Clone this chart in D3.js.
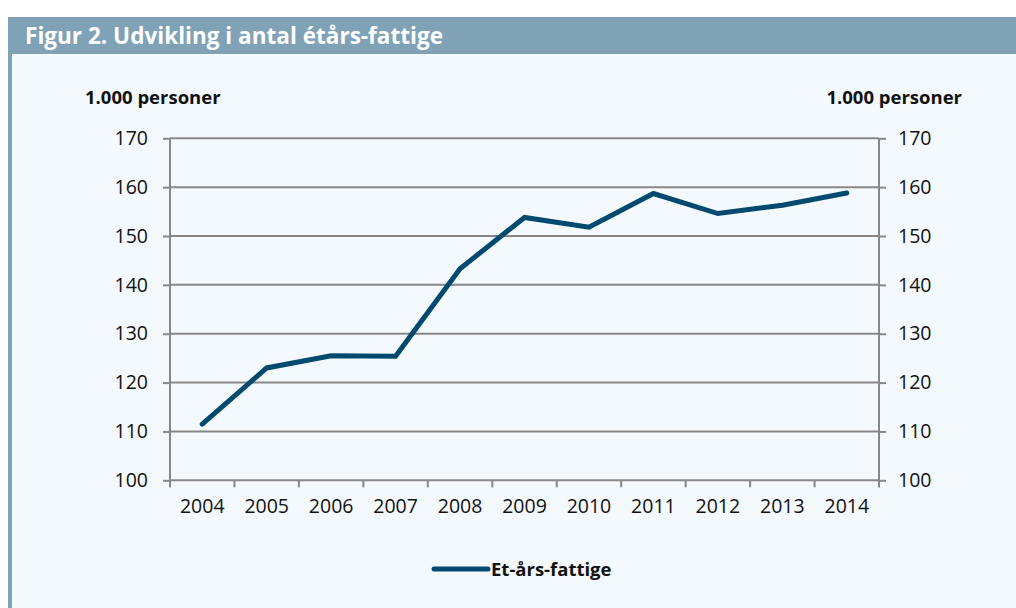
<!DOCTYPE html>
<html><head><meta charset="utf-8">
<script src="https://cdn.jsdelivr.net/npm/d3@7"></script>
<style>
html,body{margin:0;padding:0;background:#fff;}
svg{display:block;}
</style></head>
<body>
<svg id="c" width="1016" height="608"></svg>
<script>
const years = ["2004","2005","2006","2007","2008","2009","2010","2011","2012","2013","2014"];
const values = [111.5, 123.0, 125.5, 125.4, 143.3, 153.8, 151.8, 158.7, 154.6, 156.3, 158.8];
const yTicks = [100,110,120,130,140,150,160,170];
const titleText = "Figur 2. Udvikling i antal étårs-fattige";
const unitLabel = "1.000 personer";
const seriesName = "Et-års-fattige";

const svg = d3.select("#c");
const W = 1016, H = 608;
const font = "'Open Sans', sans-serif";
const gridCol = "#878787";
const lineCol = "#004a70";
const barCol = "#7fa2b7";

// background panel
svg.append("rect").attr("x",8).attr("y",17).attr("width",W-8).attr("height",H-17).attr("fill","#f4f9fd");
svg.append("rect").attr("x",8).attr("y",17).attr("width",W-8).attr("height",37).attr("fill",barCol);
svg.append("rect").attr("x",8).attr("y",17).attr("width",4).attr("height",H-17).attr("fill",barCol);
svg.append("text").attr("x",25).attr("y",44).attr("fill","#fff")
  .attr("font-family",font).attr("font-weight",700).attr("font-size",22.5)
  .attr("textLength",418).attr("lengthAdjust","spacingAndGlyphs")
  .text(titleText);

const L = 170, R = 879, T = 138.3, B = 480.3;
const x = d3.scaleBand().domain(years).range([L,R]);
const y = d3.scaleLinear().domain([100,170]).range([B,T]);

// unit labels
svg.append("text").attr("x",85).attr("y",104).attr("font-family",font).attr("font-weight",700)
  .attr("font-size",18.5).attr("fill","#111").text(unitLabel);
svg.append("text").attr("x",962).attr("y",104).attr("text-anchor","end").attr("font-family",font).attr("font-weight",700)
  .attr("font-size",18.5).attr("fill","#111").text(unitLabel);

// gridlines
svg.append("g").selectAll("line").data(yTicks.filter(d=>d>100)).join("line")
  .attr("x1",L).attr("x2",R).attr("y1",d=>y(d)).attr("y2",d=>y(d))
  .attr("stroke",gridCol).attr("stroke-width",2);

// left axis
const gl = svg.append("g").attr("transform",`translate(${L},0)`)
  .call(d3.axisLeft(y).tickValues(yTicks).tickSize(7).tickPadding(15).tickSizeOuter(0));
// right axis
const gr = svg.append("g").attr("transform",`translate(${R},0)`)
  .call(d3.axisRight(y).tickValues(yTicks).tickSize(7).tickPadding(12).tickSizeOuter(0));
// bottom axis labels
const gb = svg.append("g").attr("transform",`translate(0,${B})`)
  .call(d3.axisBottom(x).tickSize(0).tickPadding(19));
gb.select(".domain").remove();
[gl,gr].forEach(g=>{
  g.select(".domain").attr("stroke",gridCol).attr("stroke-width",2)
    .attr("d",`M0,${T}V${B+7}`);
});
[gl,gr,gb].forEach(g=>{
  g.selectAll(".tick line").attr("stroke",gridCol).attr("stroke-width",2);
  g.selectAll("text").attr("font-family",font).attr("font-size",19.5).attr("fill","#111");
});
// bottom baseline and boundary ticks
svg.append("line").attr("x1",L).attr("x2",R).attr("y1",B).attr("y2",B).attr("stroke",gridCol).attr("stroke-width",2);
const bounds = years.map(d=>x(d)).concat([x(years[years.length-1])+x.bandwidth()]);
svg.append("g").selectAll("line").data(bounds).join("line")
  .attr("x1",d=>d).attr("x2",d=>d).attr("y1",B).attr("y2",B+7)
  .attr("stroke",gridCol).attr("stroke-width",2);

// series line
const line = d3.line().x((d,i)=>x(years[i])+x.bandwidth()/2).y(d=>y(d));
svg.append("path").datum(values).attr("d",line).attr("fill","none")
  .attr("stroke",lineCol).attr("stroke-width",5).attr("stroke-linecap","round").attr("stroke-linejoin","miter");

// legend
svg.append("line").attr("x1",434).attr("x2",488).attr("y1",569).attr("y2",569)
  .attr("stroke",lineCol).attr("stroke-width",5).attr("stroke-linecap","round");
svg.append("text").attr("x",491).attr("y",576).attr("font-family",font).attr("font-weight",700)
  .attr("font-size",18.5).attr("fill","#111").text(seriesName);
</script>
</body></html>
